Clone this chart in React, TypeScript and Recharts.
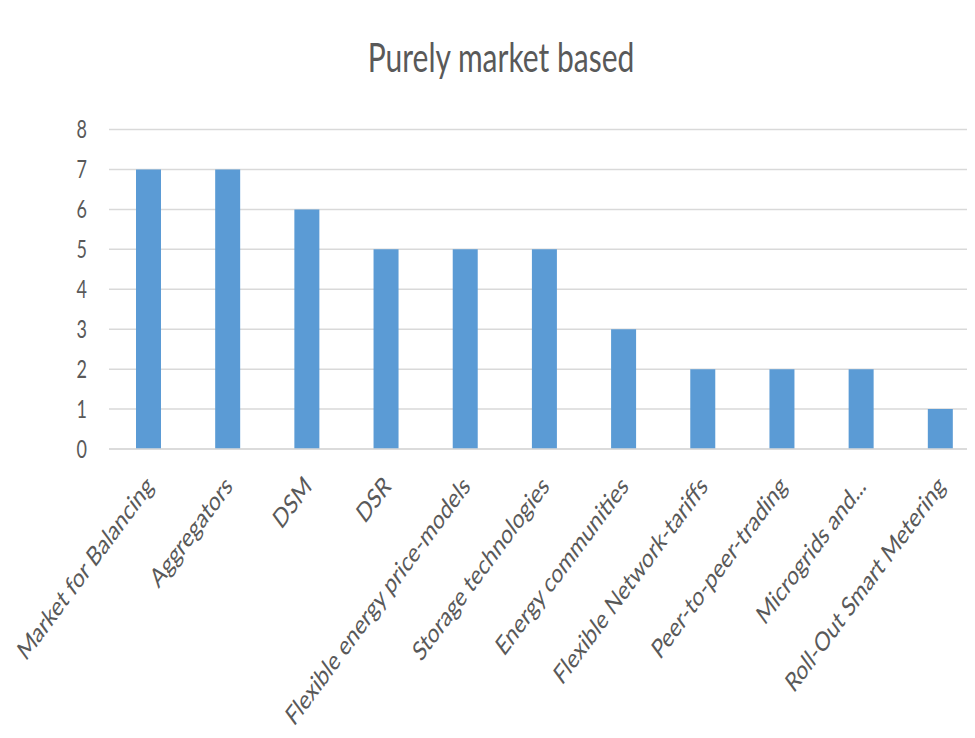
import { BarChart, Bar, XAxis, YAxis, CartesianGrid } from "recharts";

const categories = [
  "Market for Balancing",
  "Aggregators",
  "DSM",
  "DSR",
  "Flexible energy price-models",
  "Storage technologies",
  "Energy communities",
  "Flexible Network-tariffs",
  "Peer-to-peer-trading",
  "Microgrids and...",
  "Roll-Out Smart Metering",
];
const counts = [7, 7, 6, 5, 5, 5, 3, 2, 2, 2, 1];
const yTicks = [0, 1, 2, 3, 4, 5, 6, 7, 8];

const data = categories.map((name, i) => ({ name, value: counts[i] }));

const FONT = "Lato, 'Open Sans', sans-serif";
const TEXT = "#595959";
const STRETCH = 1.35; // the picture is stretched vertically

function YTick(props: any) {
  const { x, y, payload } = props;
  return (
    <g transform={`translate(${x},${y}) scale(1,${STRETCH})`}>
      <text x={-20} y={0} dy="0.36em" textAnchor="end" fill={TEXT} fontSize={18} fontFamily={FONT}>
        {payload.value}
      </text>
    </g>
  );
}

function XTick(props: any) {
  const { x, y, payload } = props;
  return (
    <g transform={`translate(${x + 1},${y + 30}) scale(1,${STRETCH})`}>
      <text transform="rotate(-45)" x={0} y={0} dy="0.35em" textAnchor="end" fill={TEXT} fontSize={20} fontFamily={FONT}>
        {payload.value}
      </text>
    </g>
  );
}

export default function App() {
  return (
    <div style={{ position: "relative", width: 967, height: 730, overflow: "hidden", background: "#fff" }}>
      <div
        style={{
          position: "absolute",
          left: 493,
          top: 28,
          transform: `translateX(-50%) scaleY(${STRETCH})`,
          transformOrigin: "top center",
          fontFamily: FONT,
          fontSize: 30,
          lineHeight: "30px",
          color: TEXT,
          whiteSpace: "nowrap",
        }}
      >
        Purely market based
      </div>
      <BarChart
        width={972}
        height={730}
        data={data}
        margin={{ top: 121.5, right: 0, bottom: 0, left: 0 }}
      >
        <CartesianGrid vertical={false} stroke="#D9D9D9" strokeWidth={1.5} />
        <XAxis
          dataKey="name"
          height={289}
          interval={0}
          tickLine={false}
          axisLine={{ stroke: "#D9D9D9", strokeWidth: 1.5 }}
          tickSize={0}
          tick={<XTick />}
        />
        <YAxis
          width={101}
          domain={[0, 8]}
          ticks={yTicks}
          axisLine={false}
          tickLine={false}
          tickSize={0}
          tick={<YTick />}
        />
        <Bar dataKey="value" fill="#5B9BD5" barSize={25} isAnimationActive={false} />
      </BarChart>
    </div>
  );
}
